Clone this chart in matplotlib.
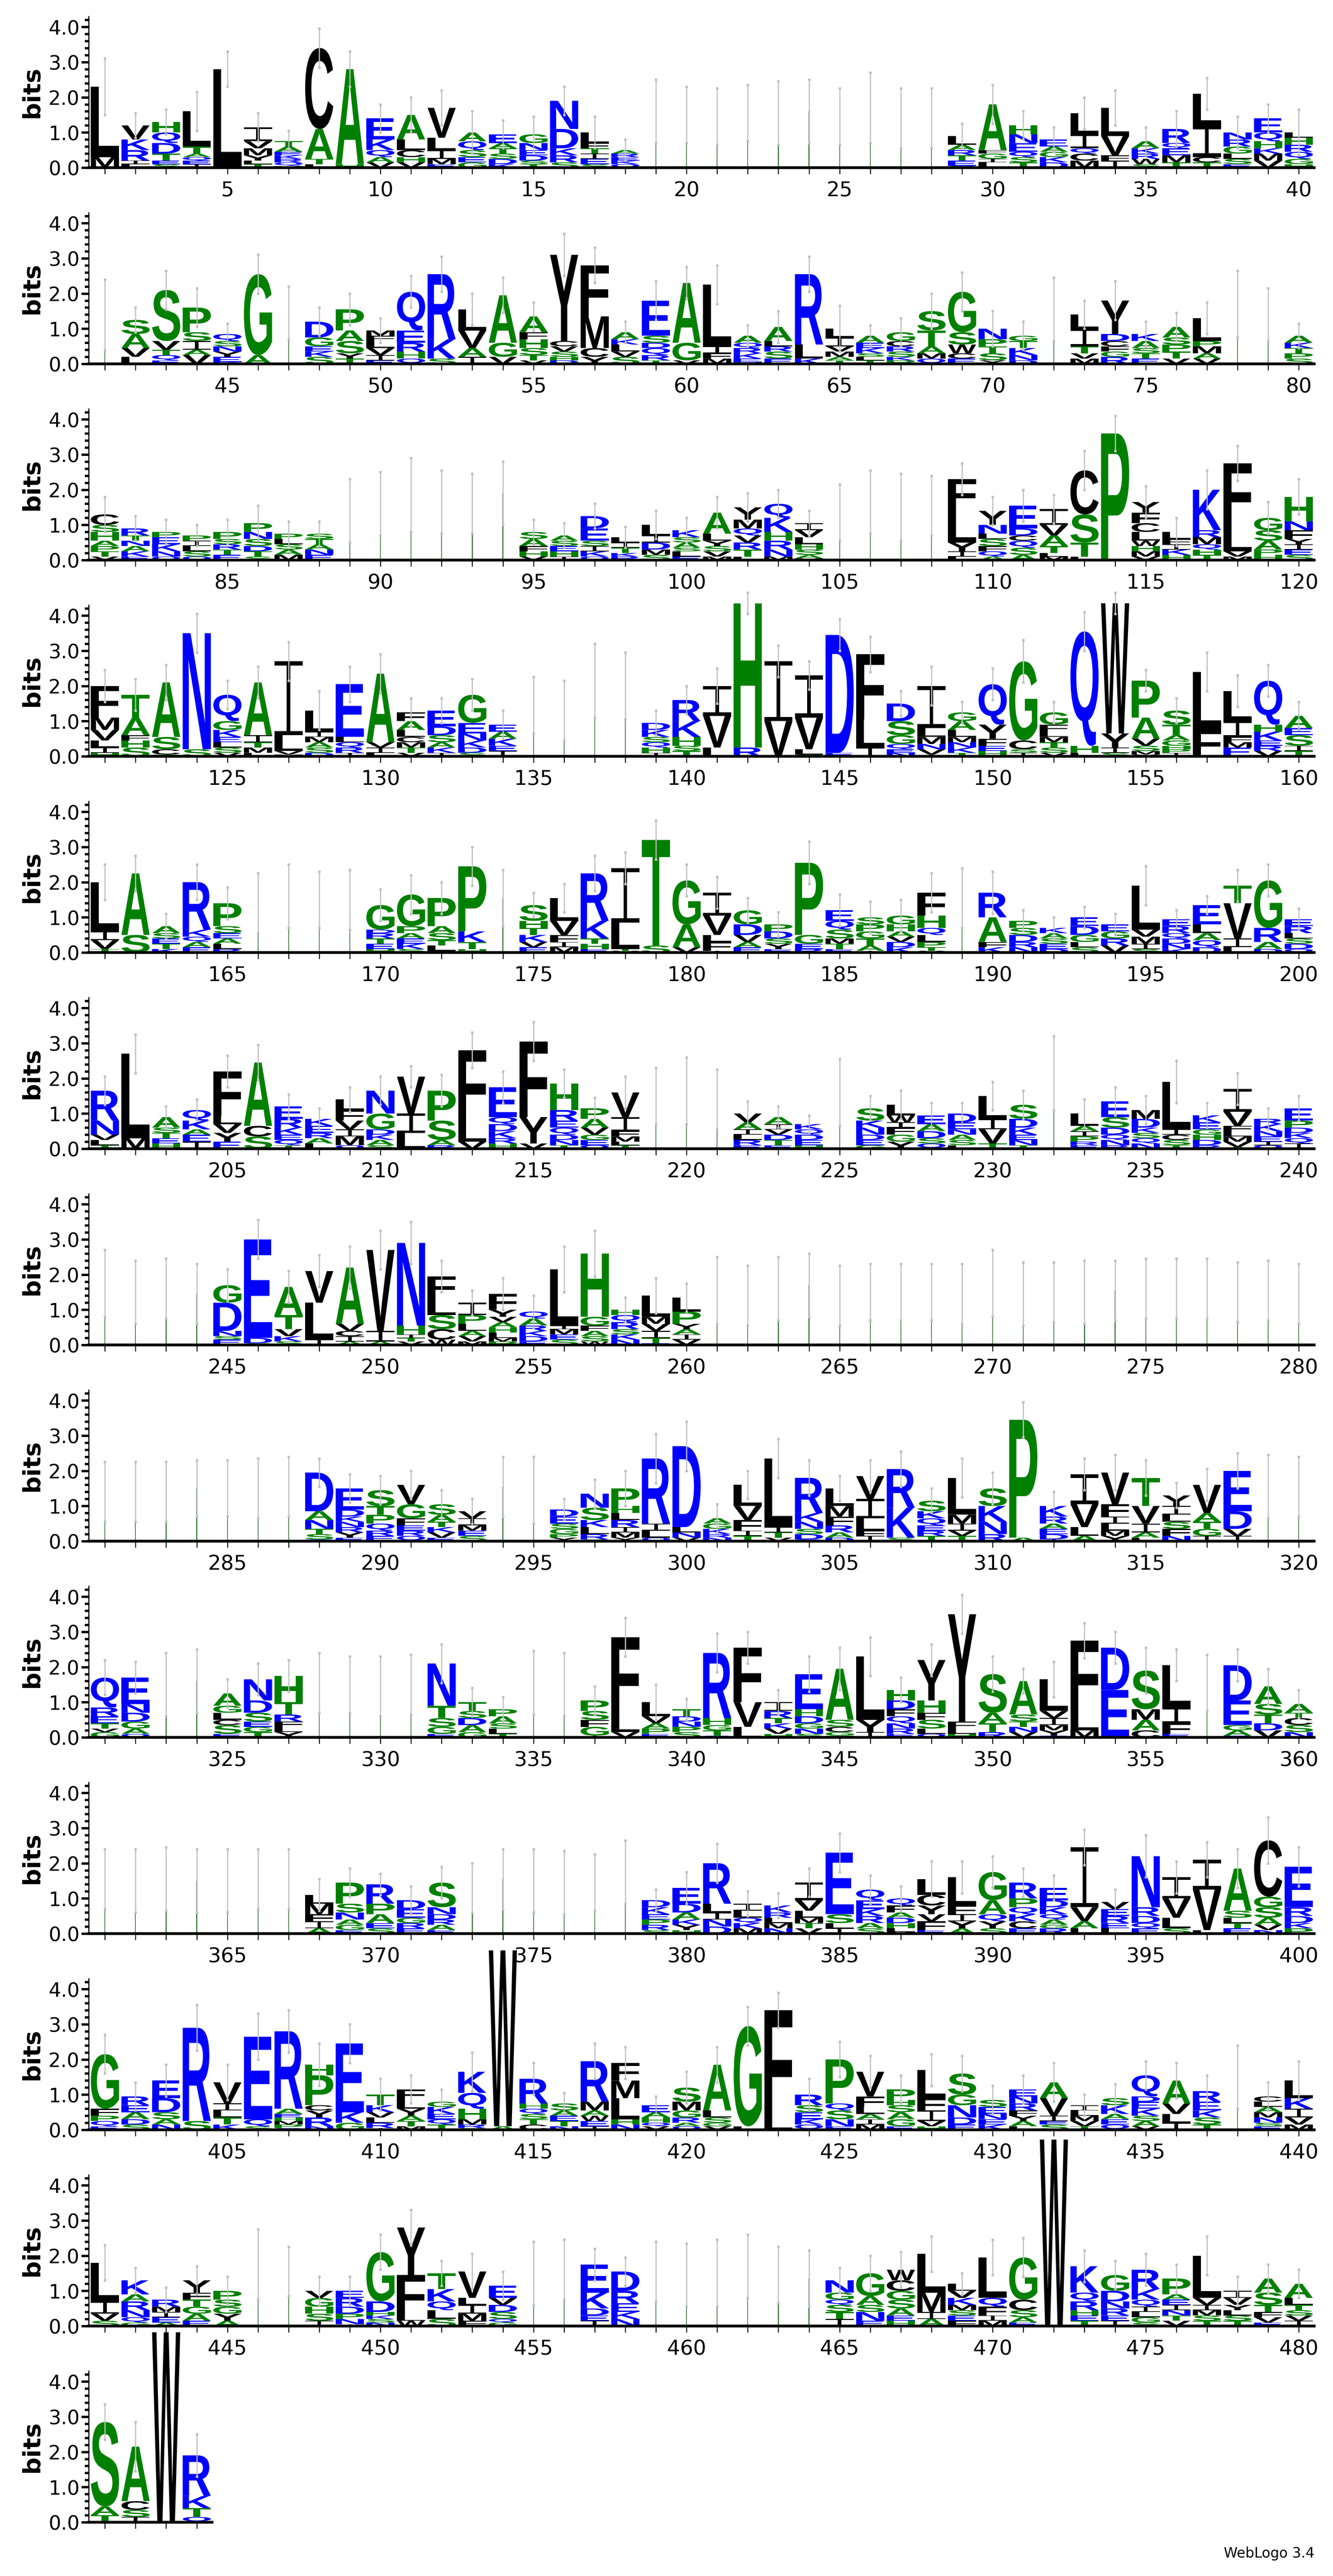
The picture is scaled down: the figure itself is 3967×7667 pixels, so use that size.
import re
import matplotlib
matplotlib.use("Agg")
import matplotlib.pyplot as plt
from matplotlib.textpath import TextPath
from matplotlib.font_manager import FontProperties
from matplotlib.patches import PathPatch, Rectangle
from matplotlib.transforms import Affine2D
from matplotlib.ticker import MultipleLocator

# Each token = one column; letters listed top-down with heights in tenths of a bit,
# "/e" = error-bar half-length in tenths; "g" = gap-dominated thin column.
row1 = """L20M3/8 V4K3R3I1L1/3.5 H3Q3D3T2E1S1/3.5 L10T2A1Q1E1I1/5.5 L28/5 I4V2M2Y1.5L1T1/4
T1.5A1.5E1K1R1Q1H0.5/3 C23A8.5T1.5L1/5.5 A27H1/5 E6K3Q2A1.5V1.5/4 A7L3C2H1.5V1.5/5 V8.5L3.5I2.5M1.5E1/5
A2.5Q2.5S2E1.5G1.5/6 E2.5A1.5T1.5S1.5D1.5K1/4 G2.5N2E1.5D1.5S1T1/5 N8D5.5K2R2S1.5/4 L3F1.5T1.5I1.5E1.5S1/4.5
A1R1E1K1Q1/3 g16/9 g15/8 g14.5/8 g15.5/8 g15.5/9 g16/9 g14.5/8 g17/10 g14/8.5 g14/8.5
L2.5A1.5R1.5T1.5E1.5S0.5/3.5 A13F1G1.5I1L1.5/5.5 H2.5N2.5E2.5Q1.5S1.5T1.5/4 E2A1.5G1.5K1.5D1.5/3.5
L6I4Q1.5C2M2/4.5 L8V5.5F1.5I2/5 A2K1.5R1.5W1.5S1/4 R4Q1.5E2M2T1.5/5 L9I9C1.5T1.5/4.5
N2R2G2L1.5S1.5E1/4.5 E4Q2.5H2K1.5M2V2/4 L1.5H2R2Q2G1.5H1/6.5"""
row2 = """g14/10 S4A4V2.5L2/3.5 S14.5V2.5T1.5Q1.5E1/5.5 P7S2.5I2.5A1.5V2.5/5.5 Q2S1.5N1.5Y1.5E1.5K0.5/3
G23A2.5/5.5 g14.5/7.5 D4.5G2.5E1.5K1.5S2/4 P6A3S3.5Y1.5T1.5/4.5 M1.5F1.5L2V2I1.5E1/3.5
Q11E3.5R2.5H2Q1.5/4.5 R18.5K5.5S1.5/5 L6V5A2.5I2/4.5 A13.5G4V2/5 A4.5F2H2.5S2T1.5V1/4
Y24.5C1.5V1.5S1.5H1D1/6 F14.5M9C2.5Y2/5 A2K1.5L2V1.5S2/3 E10S2D1.5Q2R1.5T1/5.5 A17G5V1/4.5
L17.5I2F1.5M1.5/5.5 A2Q1.5R1.5K1.5E1H0.5/3 A4L1.5R1.5S2E1.5/4.5 R20L4K1.5/5 L2.5I2.5V1.5M1.5A1T1/6.5
A2E1.5K1.5S1L1T1/3 G2.5C1.5R1.5S1.5K1P1/4 S5.5T4.5A2M1.5Q1.5/5 G11.5S3.5W2.5C1.5E1.5/5.5
N3P2T2S2Y1/5 G1.5T2K2N1.5D1/4 g15.5/9 L4I5T2V1.5M1.5/4 Y9.5D2C1.5F1.5G1.5R2/5.5
K2A2S1.5T1.5E1.5/3.5 A3S2P2T2V1.5/4 L6.5P1.5M2A1.5V1.5/4.5 g17/9.5 g14/7.5 A2K1.5T1.5P1.5S1.5/3.5"""
row3 = """C3S2H2.5A1.5P1.5T1.5V1/5 R2T1.5N1.5A1.5K1.5E1/3.5 P1.5E2K2N1.5Q1/3.5 P1.5I1.5L1.5S1.5Q1/3
P2S1.5R1.5T1.5E1.5/3.5 P2.5N2S2D1.5T1.5S1/5 P1.5L1.5S1.5A1.5M1.5/3.5 S1.5T1.5A1.5N1.5E1.5/3.5
g14/9 g16/9 g18.5/10.5 g16.5/9 g16/8.5 g19/9 S2A2F1.5H1.5V1/3.5 A1.5S1.5E1.5H1.5I1/3.5
D3.5E3.5S1.5I1.5K1.5Q1/3.5 L1.5I1.5T1.5K1R1/3 L3I2D2M1.5S1.5/4 K2S1.5A1.5S1L1.5E1/3.5
A6L2Y1.5S1.5V1.5M1/4.5 Y3.5M2.5Q2V2R2T2L1/4 Q4K4H2.5R2.5N2M1/4 I2V2L2H1.5S1.5A1M0.5/3.5
g13.5/8 g16.5/9 g15/9.5 g15.5/8.5 F8.5L9.5Y2.5I1.5L1/4.5 Y4N2.5L1.5S2F1.5Q1.5A1/4
E6.5D2C1.5Q2S2A1.5/4.5 I4.5V3A3T2L1M1/4 C12.5S8T4L1/5.5 P36/5 Y3F3C2.5L2.5W1.5H1.5M1.5V1/4.5
L2F1.5I1.5K1.5H1.5/4 K11.5R2M2Q1.5H1.5T1.5/5.5 F17.5L7.5V1.5M1/5 G3.5S3A2.5P1.5H1.5/4.5
H7N2.5F2.5Y1.5I1.5E1.5S1.5/5"""
row4 = """F9M3.5V3L2I1.5H1/4.5 T6.5A5F1.5H2S2.5/4.5 A15.5S3.5C1.5T0.5/5 N33S2/5.5 Q7.5G2.5K2E1.5L1.5S1.5V1/4
A15I2T1.5M1.5L1/4.5 I21L4.5V1M0.5/5.5 L6I1.5M1.5A1.5S1.5D1/5.5 E15L1.5Q1.5R1.5I1/5 A19.5V1.5I1.5L1/5.5
F2.5A2.5L2C1.5M1.5T1.5V1/4 E4.5D2.5S2A1.5K1.5I1/3.5 G8E3N2K2D1.5S1/4.5 E2A2K2E1.5I1.5/4
g14.5/8 g13/8.5 g21.5/10.5 g20/9.5 D2K2S1.5Q1.5H1.5I1/3.5 R6K4.5H2.5S1.5T1.5/4 I8.5V9L2.5/5
H41R2.5/3 I17V10/4.5 I12V9L1.5S0.5/4 D33.5E1/4.5 F18.5L8I2.5/5 D5S4G2.5Q1.5E1N1/3.5
I12L2.5M2N1.5V1.5I0.5/5.5 G2.5A2.5L2M1.5N1.5K1.5T1/3 Q11.5Y4F2E1.5H1.5/4.5 G22.5C2.5S1I1/6
G3.5F2L1.5M1.5T1.5S1.5V1/3 Q32.5H2L1/5.5 W37Y4I1.5S1/3 P10.5A6V2S1.5M1Y0.5/3 S4T3A1.5G1.5H1P1I1/3.5
L16.5F7.5/5.5 L8.5I4.5F1.5M1.5E2.5/4.5 Q12.5H2K2.5E1.5R1.5V1.5/4.5 A3.5E2S3I1.5T1.5/4"""
row5 = """L14I2.5V2.5T1/5 A17.5S5/5 A2S1.5E1.5T1.5K1/3.5 R13.5K2Q1.5A1.5E1.5/5 P6.5S2E1.5A1.5L1.5R1/4.5
g14/8.5 g16/9 g15/8 g15/8.5 G7D1R1.5T1.5E1.5H1/4.5 G9P2A1.5E1.5K1.5S1/5.5 P8A2S2T1.5L1.5F0.5/4.5
P18.5K3T2H1/5.5 g15.5/8 S4.5H2T2K2V1.5E1.5/3.5 L6.5V4F2I1.5M1.5/4 R13.5K5T1.5H1.5E1/5
I15.5L7.5T0.5V0.5/4.5 T30S2/5.5 G12.5A6.5V1.5/4.5 I6.5V5.5L2F2.5I0.5/4.5 G4D3V2A1.5E1.5/3.5
P2D2S1.5Y1.5E1/3.5 P20.5G2.5E1.5R1/6 E3Q2.5S2.5M1.5T1.5E1/4.5 S2P2G2T2A1.5I0.5/4.5
G2.5H2A1.5V1.5D1.5K1.5/4.5 F6.5H3.5Q2L2P1.5T1Y0.5/5.5 g15.5/8.5 R7A7F1.5K1.5/6 P2S2D2R1.5N1.5/3
K1.5A1.5S1.5E1.5D1/3 E2.5D2.5G2L1.5S1.5/3 E2G2R2V2/3 L12.5V2M2I1.5S1/5.5 E2R2Q1.5D1.5N1.5K1/2.5
E5.5L2.5A2Q2D1.5/2.5 T5V10I2.5L1.5/4.5 G13.5R4A2D1/4.5 E2R2L1.5S1.5D1.5Q1/3"""
row6 = """R8.5N4V1.5L1.5T1/4 L24M3/5.5 A3S1.5T1.5E1.5H1.5/3 Q3K2.5A1.5E2I2/3 F12.5L2.5V2.5Y2.5E2/4.5
A18C3S3.5/5 E3.5R2.5K2E1.5Q1.5T1/3.5 K2E2R1.5A1.5L1.5/3 L3F3V2.5I2M2.5Q1/3.5 N6.5G4.5D1.5K1.5A1.5S1/4
V10.5I5.5L4.5/3 P8.5S5.5A1.5R1/4.5 F20L6V2/5 E8.5Q2D2K2R1.5H1.5/4.5 F21.5Y7.5V1.5/5.5
H7.5R3E2Q2D1.5N1.5T1/4 P3A2.5V2G1.5E1.5Q1/3 V7I4F1.5M1.5L1T1/4.5 g15/8 g16.5/9.5 g14/8.5
V2.5A2I1.5L1.5R1.5E1/3.5 A2I1.5V1.5D1.5T1.5E1/3 K1.5Q1.5D1.5E1.5H1/2.5 g16/9.5 S3.5K2N2D1.5E1.5G1/3.5
L3W2I1.5F2G2Y2/4 E2.5A2D2S1.5Q1.5/3.5 D2.5E2N1.5A1.5S1.5L1/3 L6.5I3V4T1.5/4 S4D2.5K2E1.5N1.5T1/4
g21.5/10.5 L3.5A1.5I1.5P1.5R1E1/4 E4.5S3D2Q1.5N1.5R1/4 M2.5D2.5K1.5S1.5Q1.5N1.5/4 L13.5I1.5C1.5S1.5T1/6
K2E2G1.5H1.5D1.5R1/3.5 I6.5V4F1.5L1.5M1.5V1.5A0.5/4.5 R1.5K2N1.5E1.5I1Q1/3 E3.5P2D1.5K1.5Q1.5I1.5/3.5"""
row7 = """g17.5/9.5 g15/9 g16/8.5 g14.5/8.5 G5D8N1.5S1E1.5/4.5 E28D1.5S0.5/5.5 A8T4V2K1.5S1/4.5 V9L10.5I1.5/4.5
A16V2C1.5I1.5A1/6 V23I3A1/5.5 N23.5H2.5I1T1V1/6 F6L5S4C3W1.5/4.5 I3.5P2.5L2A1.5V1.5M1/3.5
F4.5Y2V1.5A1.5H1.5L1.5M1P1/4.5 Q2A2R1.5K1.5D1.5E1/4.5 L16I1M1.5E1.5S1.5/6.5 H18G2.5F1.5A1.5S1.5W1/6.5
H1.5Q2R2S1.5K1.5N1.5/3.5 L6M2V2I2T1.5E0.5/5 L4P3.5Y1.5A1.5I1.5V1.5/4
g15.5/9.5 g14/8.5 g16/9 g17/9 g14/8.5 g15/8 g15/8 g15/8 g14.5/8.5 g17.5/9.5 g14.5/9 g15/8.5 g15/9
g15.5/8.5 g16/8.5 g16/8.5 g16/8.5 g15/8.5 g15.5/8.5 g14.5/8.5"""
row8 = """g14/8.5 g14/8.5 g14/8.5 g15/8 g15/8 g15/8.5 g15.5/8.5 D11A2.5N2.5T1.5S1.5E0.5/4 E6D2K1.5N1.5R1.5Y1.5E1/4
S4.5T2.5P2.5Q2R1.5E1.5/4 V5.5G4F2E1.5R1.5Q1.5/4 S3A2T1.5K1.5V1.5E1/4 V2I2M1.5E1.5S1.5/3.5 g15.5/8.5 g14.5/9.5
D2E2S1.5G1.5P1Y1/3 N4S3.5K2L2R1.5S0.5/4 P5H2L2R2I1.5M1.5Y1/5 R18.5I2L2Q1/7 D23L1.5N1.5V1/7 A1.5G1.5K1.5R1N1/4
L6V4F3I1.5T1.5/4 L19.5I1.5T1.5V1/5.5 R10K2.5N2S1.5D1.5Q0.5/5 L5M3F2.5R2A1.5D1/3.5 V6.5I5.5L3.5F1.5I1.5/4.5
R11K8.5S1/5 S3K2Q2E1.5R1.5T1.5/3.5 L10.5M2.5I2V1.5T1.5/5.5 S5K4.5N3.5R2/4.5 P33.5A1/5 K3R2A1.5E1.5D1.5I0.5/4
I8.5V6.5L2.5A1.5/4.5 V9F3.5I2L2M1.5Y1.5/5 T8V5I2.5A1.5L1/5 Y3I2.5L2S2F2N1.5/3.5 V8A2.5T2G2I1.5/4.5
E11.5D5V2I1.5/5 g15.5/9 g15.5/8.5"""
row9 = """Q8.5R2.5E2T1.5V1G1.5/5 E7.5N2.5D2.5G2A1.5Q1/4.5 g15/9 g16/9 A3.5G2L2C1.5S2.5E1/4 N6D3.5S2.5E1.5G1.5T1.5/4.5
H7.5T3.5R2F1.5L1.5Y1.5/4.5 g15.5/8.5 g15/8 g14.5/8.5 g15/8.5 N12T3.5S2.5G2E1/5.5 T2.5S2D2A2G1.5/4
P2A2S1.5L1.5T1/3.5 g15.5/9 g15/9 P3S2.5F2G2.5I0.5/4 F22L5V1.5/5.5 L4V2A1.5P1.5E1/5 T2D1.5N1.5P1.5S1.5/3
R18.5H2G1.5T1.5Q0.5/5.5 F15.5V7L3/4.5 I2.5R2T1.5K1.5V1.5H1/3.5 E10H2D2G1.5N1.5S1/5 A14.5S2C1.5G1T0.5/6
L18Y3.5I1.5/5.5 H3D2.5F2Q2N1.5R1.5E1/3.5 Y11.5H3.5F2S2.5L1.5Q1/4.5 Y30.5F2L1.5H1/5.5 S11A3T2.5R1.5/5
A9.5S2T1.5N1.5V1.5/3.5 L9V2I2M1.5Y1.5E0.5/5 F20L5.5M2/5 D12E13.5/4.5 S11M3A3C2/6.5 L12I4.5F3E1/4.5
g15.5/8 D10E7G1.5A1.5E0.5/4.5 A5S3T2.5D2V2/5 A2.5T1.5C2S2N1.5/4"""
row10 = """g15.5/8.5 g15/9 g15.5/9 g15/9 g15/9 g15.5/8.5 g15.5/8.5 L2.5M3F2I2A1.5/4.5 P6S2.5N2A1.5G1.5E1/4
R5.5P3A2.5E1.5S1.5/3 D2.5E2.5G1.5R1.5E1.5/4 S7N2D1.5R1.5A1.5E1/4.5 g13/7 g15.5/8.5 g15/9 g14.5/9 g14.5/8
g17.5/9 D2K2E1.5P1.5R1.5S1/3 E4.5D2.5A2K1.5Y1.5H1/4.5 R11.5L2.5I2N2D2/5.5 I2L2Q1.5K1.5M1.5/3.5
K2R1.5L1.5M1.5N1.5/3.5 I5V3L2M1.5T1.5V1.5/4 E17.5S2.5L1.5I1.5/5.5 Q3E2.5K2R2A1.5S1.5/4
Q2F2A1.5D1.5H1.5L1M0.5/3.5 L4.5C3Y2.5V2F2.5E1/5 L8F2.5I2Y2A1.5/4.5 G8A4Q2Y2S1.5/4.5 R4.5P2.5Q2K2C2E1.5/4
E3.5D2K2Q1.5A1.5G1R1.5/3.5 I17V4A2L1.5/5 V2E2R2E1.5L1.5/3.5 N14.5R2.5D2Q1.5E1.5/6 I6V5.5L3S1.5/4.5
I8.5V11.5L1/5 A12S2L1.5T1.5E1.5/5.5 C16G3S3A2V1.5N1/6.5 E11.5R2.5D2K1.5P1.5/5.5"""
row11 = """G15.5F2P1.5Q1.5E1/5.5 R2.5E2A2D1.5S1.5/4 E5D4S2A1.5N1.5/4.5 R26.5S2.5/6.5 V6I2L2T2K1.5/5
E23.5Q2S1/6.5 R22A1.5E1H1M1P1Q0.5/6 H3P8.5C1.5Y2R2.5N1/6 E19.5K3G2/5.5 T3K2V1.5L1.5R1.5I0.5/4.5
F3L2.5Y2A1.5T1.5M1/4 G1.5K2E1.5Q1.5T1.5/3.5 K6Q4.5H3M1.5R1S0.5/5.5 W50A1/0 R7H1.5Q1.5S1.5T1.5C1.5/4.5
S2A1.5E1.5T1.5N1/3 R11.5M2.5A1.5W1.5E1.5I1/5 F5M5L6H1.5N1.5/4.5 E2A1.5H1.5Q1V1/2.5 S4M2.5G2R1.5A1Q1/4.5
A13L2S1.5G1V1/5 G28.5L1/5.5 F30L4/5 R3S2E2K1.5Q1.5/4.5 P12.5Q2S2.5N2E1/5 V7F3L2A1.5I1.5M1.5/4.5
P3H1.5S2A2G2E1/4 L8F3.5I3V1.5H1/4.5 S6G3N3.5D2E1.5/5 S2E2N1.5E1.5K1.5/4 E2N2R2F1.5Y1.5A1.5L1/4
A4.5V5I1.5E1S1.5/5.5 I1.5L1.5M1.5V1.5T1/3 S2K2.5A1.5E1.5Q1.5/4 Q6D1.5E2K2S1.5A1.5V1/4 A6.5V3L2.5I2/5
R3E2.5K2S2T1.5/4.5 g15/9 C1.5L1.5A1.5M1.5N1.5S1E1/4 L5K3I2.5V2M1.5/5.5"""
row12 = """L11I3.5V2S1.5/5 K4A2R2.5N2Q1.5G1/3.5 R2M1.5I1.5E1.5A1/3.5 Y3.5F2T2G2A2E1.5/4 P2.5S2G2Y2A1.5/4
g17.5/10 g15.5/7 V2G2.5H2S2I1.5/4 E2R2.5D2P1.5N1.5I0.5/4 G14D3H1K1S1N1/5 Y13.5F11.5L1.5W1.5/5
T4.5K3.5Q2.5L2.5S2/3.5 V7.5L2I2.5M2F1.5/5 E3.5V2D2S2Q1G1/4 g15/9 g16/8.5 E8K4.5D2E1.5I1.5/4.5
D5.5R3.5E2.5K2N2/4 g15.5/8.5 g14.5/9 g15/9.5 g17/9 g14.5/8 g13.5/8 N3.5G2Q1.5S2T2I2/3.5
G6.5A2.5S2N2.5E1.5/5 W3C3G2.5S2.5A2E1.5H1.5/5 L11M5.5I2A2/5 L2V2K2M1.5S1.5E1.5F1.5/3
L11.5Q2.5F2.5I1.5M1.5/5 G12C3S2A1.5E1/5.5 W53/0 K7.5Q2.5R2.5H1.5E1.5T1.5/4.5 G4.5D3N2R2E1.5I1.5/4
R5.5K3Q2I1.5L1.5G1.5S1/4.5 P4.5A1.5E1.5I1.5N1.5T1.5V1.5/4 L12V2I1.5M1.5S1.5T1.5/5.5
I2V2Y1.5L1.5S1.5T1.5/4 A4S3.5T2F1.5V1.5E1/4 A4L2T1.5S1.5V1.5I1.5/4"""
row13 = """S24A2.5T2/5 A15.5C2.5S2I1.5/7 W54/0 R11.5K3.5T2.5Q1.5/6"""
rows = [row1, row2, row3, row4, row5, row6, row7, row8, row9, row10, row11, row12, row13]

BLUE = set("RKDENQ")
GREEN = set("SGHTAP")
def colour(ch):
    if ch in BLUE:
        return "#0000FF"
    if ch in GREEN:
        return "#008000"
    return "#000000"

fp = FontProperties(family="Liberation Sans", weight="bold")
glyph_cache = {}
def glyph(ch):
    if ch not in glyph_cache:
        p = TextPath((0, 0), ch, size=1, prop=fp)
        glyph_cache[ch] = (p, p.get_extents())
    return glyph_cache[ch]

W_px, H_px = 3967, 7667
fig = plt.figure(figsize=(W_px / 100, H_px / 100), dpi=100)
left_px = 264
pos_px = 91.1
bit_px = 104.7
top0 = 499
row_step = 584
ytop = 4.3
LW = 0.92

def draw_I(ax, x, y, hh):
    # serif capital I as drawn by WebLogo
    bar = min(0.12, hh * 0.12)
    ax.add_patch(Rectangle((x - LW / 2, y), LW, bar, color="black", lw=0, clip_on=False))
    ax.add_patch(Rectangle((x - LW / 2, y + hh - bar), LW, bar, color="black", lw=0, clip_on=False))
    ax.add_patch(Rectangle((x - 0.06, y), 0.12, hh, color="black", lw=0, clip_on=False))

for r, rowtxt in enumerate(rows):
    tokens = rowtxt.split()
    start = 40 * r + 1
    n = len(tokens)
    x0 = start - 0.53
    x1 = start + n - 0.5
    axw = (x1 - x0) * pos_px
    zero_y = top0 + row_step * r
    ax = fig.add_axes([left_px / W_px, 1 - zero_y / H_px, axw / W_px, ytop * bit_px / H_px])
    ax.set_xlim(x0, x1)
    ax.set_ylim(0, ytop)
    for i, tok in enumerate(tokens):
        x = start + i
        body, err = tok.split("/")
        err = float(err) / 10
        if body.startswith("g"):
            h = float(body[1:]) / 10
            ax.add_patch(Rectangle((x - 0.012, 0), 0.024, h, color="#2a6a2a", lw=0))
        else:
            parts = [(c, float(v) / 10) for c, v in re.findall(r"([A-Z])(\d+(?:\.\d+)?)", body)]
            y = 0.0
            for ch, hh in reversed(parts):
                if ch == "I":
                    draw_I(ax, x, y, hh)
                else:
                    p, ext = glyph(ch)
                    tr = (Affine2D().translate(-ext.x0, -ext.y0)
                          .scale(LW / ext.width, hh / ext.height)
                          .translate(x - LW / 2, y))
                    ax.add_patch(PathPatch(p, transform=tr + ax.transData, color=colour(ch),
                                           lw=0, clip_on=False))
                y += hh
            h = y
        if err > 0:
            ax.plot([x, x], [h - err, h + err], color="#C0C0C0", lw=2.5, zorder=5,
                    marker="s", ms=5, mec="#C0C0C0", clip_on=False)
    ax.axhline(0, color="black", lw=6, zorder=6, clip_on=False)
    for s in ["top", "right", "bottom"]:
        ax.spines[s].set_visible(False)
    ax.spines["left"].set_linewidth(2.5)
    ax.set_xticks(range(start, start + n))
    ax.set_xticklabels([str(v) if v % 5 == 0 else "" for v in range(start, start + n)],
                       fontsize=44)
    ax.tick_params(axis="x", length=14, width=2, pad=14)
    ax.set_yticks([0, 1, 2, 3, 4])
    ax.set_yticklabels(["0.0", "1.0", "2.0", "3.0", "4.0"], fontsize=42)
    ax.yaxis.set_minor_locator(MultipleLocator(0.2))
    ax.tick_params(axis="y", which="major", length=16, width=5)
    ax.tick_params(axis="y", which="minor", length=9, width=5)
    ax.set_ylabel("bits", fontsize=52, fontweight="bold", labelpad=10)

fig.text(0.986, 0.006, "WebLogo 3.4", ha="right", va="bottom", fontsize=30)
fig.savefig("out.png", dpi=100)
